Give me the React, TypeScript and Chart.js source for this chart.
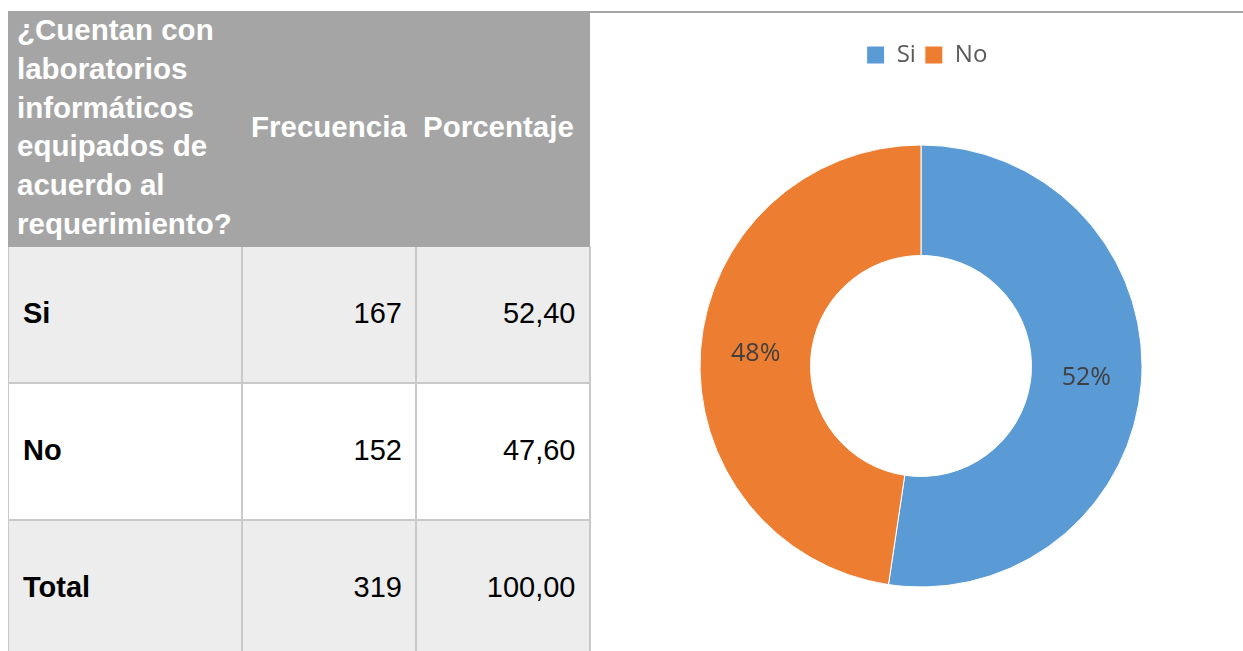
import React, { useEffect, useRef } from "react";
import { Chart, registerables } from "chart.js";

Chart.register(...registerables);

// ---- data ----
const categories = ["Si", "No"];
const frecuencia = [167, 152];
const porcentaje = [52.4, 47.6];
const totalLabel = "Total";
const totalFrecuencia = 319;
const totalPorcentaje = 100;
const headerQuestion = [
  "¿Cuentan con",
  "laboratorios",
  "informáticos",
  "equipados de",
  "acuerdo al",
  "requerimiento?",
];
const headerFrecuencia = "Frecuencia";
const headerPorcentaje = "Porcentaje";
const sliceColors = ["#5b9bd5", "#ed7d31"];

// ---- styles ----
const TABLE_FONT = "'Liberation Sans', Arial, sans-serif";
const BORDER = "#c9c9c9";
const LINE_H = 38.8;

const fmt = (v: number) => v.toFixed(2).replace(".", ",");

function DoughnutChart() {
  const ref = useRef<HTMLCanvasElement | null>(null);
  useEffect(() => {
    if (!ref.current) return;
    const total = frecuencia.reduce((a, b) => a + b, 0);
    const labelPlugin = {
      id: "sliceLabels",
      afterDatasetsDraw(chart: any) {
        const { ctx } = chart;
        const meta = chart.getDatasetMeta(0);
        ctx.save();
        ctx.font = "25px 'Open Sans'";
        ctx.fillStyle = "#404040";
        ctx.textAlign = "center";
        ctx.textBaseline = "middle";
        meta.data.forEach((arc: any, i: number) => {
          const pos = arc.tooltipPosition(false);
          ctx.fillText(Math.round((frecuencia[i] / total) * 100) + "%", pos.x, pos.y);
        });
        ctx.restore();
      },
    };
    const legendShift = {
      id: "legendShift",
      afterLayout(chart: any) {
        const lg = chart.legend;
        if (lg) {
          lg.left += 6;
          lg.right += 6;
        }
      },
    };
    const chart = new Chart(ref.current, {
      type: "doughnut",
      data: {
        labels: categories,
        datasets: [
          {
            data: frecuencia,
            backgroundColor: sliceColors,
            borderColor: "#ffffff",
            borderWidth: 1,
          },
        ],
      },
      options: {
        responsive: false,
        animation: false,
        devicePixelRatio: 1,
        radius: 221,
        cutout: "50%",
        layout: { padding: { left: 9, right: 0, top: 21, bottom: 0 } },
        plugins: {
          legend: {
            position: "top",
            labels: {
              boxWidth: 18,
              boxHeight: 18,
              padding: 9,
              color: "#595959",
              font: { family: "'Open Sans'", size: 24 },
            },
          },
          tooltip: { enabled: false },
        },
      } as any,
      plugins: [labelPlugin, legendShift],
    });
    return () => chart.destroy();
  }, []);
  return (
    <canvas
      ref={ref}
      width={653}
      height={642}
      style={{ position: "absolute", left: 590, top: 13, width: 653, height: 642 }}
    />
  );
}

export default function App() {
  const bodyRows = [
    { label: categories[0], f: frecuencia[0], p: porcentaje[0], bg: "#ededed", top: 247, h: 135 },
    { label: categories[1], f: frecuencia[1], p: porcentaje[1], bg: "#ffffff", top: 384, h: 135 },
    { label: totalLabel, f: totalFrecuencia, p: totalPorcentaje, bg: "#ededed", top: 521, h: 130 },
  ];
  const textBase: React.CSSProperties = {
    position: "absolute",
    fontFamily: TABLE_FONT,
    fontSize: 29,
    lineHeight: LINE_H + "px",
    whiteSpace: "nowrap",
  };
  const headText: React.CSSProperties = { ...textBase, fontSize: 29.5, color: "#fff", fontWeight: 700 };
  return (
    <div
      style={{
        position: "fixed",
        left: 0,
        top: 0,
        width: 1243,
        height: 651,
        overflow: "hidden",
        background: "#ffffff",
      }}
    >
      {/* header */}
      <div style={{ position: "absolute", left: 8, top: 11, width: 582, height: 236, background: "#a5a5a5" }} />
      <div style={{ ...headText, left: 17, top: 11 }}>
        {headerQuestion.map((l, i) => (
          <div key={i}>{l}</div>
        ))}
      </div>
      <div style={{ ...headText, left: 251, top: 108 }}>{headerFrecuencia}</div>
      <div style={{ ...headText, left: 423, top: 108 }}>{headerPorcentaje}</div>

      {/* body rows */}
      {bodyRows.map((r, i) => (
        <React.Fragment key={i}>
          <div style={{ position: "absolute", left: 8, top: r.top, width: 583, height: r.h, background: r.bg }} />
          <div style={{ ...textBase, left: 23, top: r.top + 47, color: "#000", fontWeight: 700 }}>{r.label}</div>
          <div style={{ ...textBase, left: 242, width: 160, textAlign: "right", top: r.top + 47, color: "#000" }}>
            {r.f}
          </div>
          <div style={{ ...textBase, left: 416, width: 159.5, textAlign: "right", top: r.top + 47, color: "#000" }}>
            {fmt(r.p)}
          </div>
        </React.Fragment>
      ))}

      {/* borders */}
      <div style={{ position: "absolute", left: 8, top: 247, width: 1, height: 404, background: BORDER }} />
      <div style={{ position: "absolute", left: 241, top: 247, width: 2, height: 404, background: BORDER }} />
      <div style={{ position: "absolute", left: 415, top: 247, width: 2, height: 404, background: BORDER }} />
      <div style={{ position: "absolute", left: 589, top: 247, width: 2, height: 404, background: BORDER }} />
      <div style={{ position: "absolute", left: 8, top: 382, width: 583, height: 2, background: BORDER }} />
      <div style={{ position: "absolute", left: 8, top: 519, width: 583, height: 2, background: BORDER }} />

      {/* chart frame top line */}
      <div style={{ position: "absolute", left: 590, top: 11, width: 653, height: 2, background: "#a5a5a5" }} />

      <DoughnutChart />
    </div>
  );
}
